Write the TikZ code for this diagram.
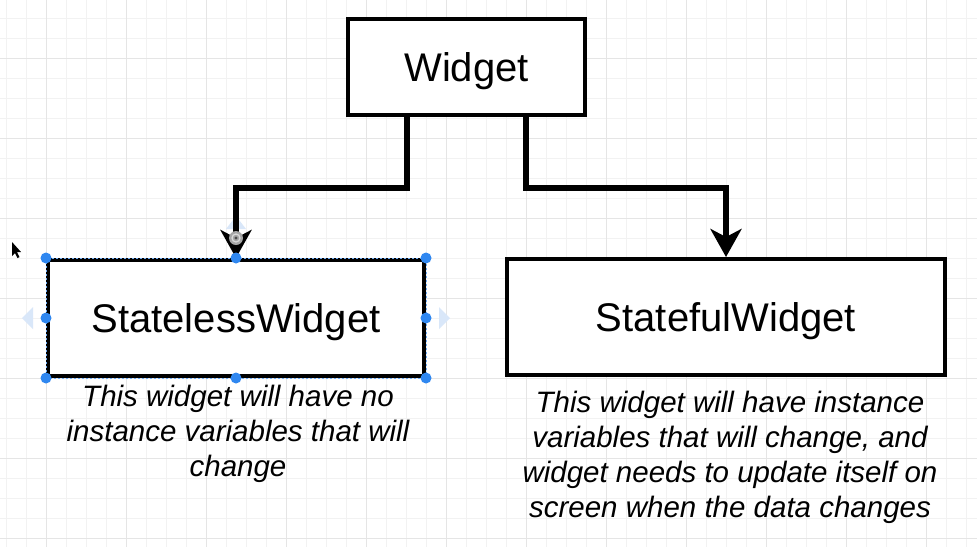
\documentclass[tikz,border=0pt]{standalone}
\usepackage{fontspec}
\setmainfont{Liberation Sans}
\usetikzlibrary{arrows.meta}
\definecolor{gridfine}{HTML}{F2F2F2}
\definecolor{gridmajor}{HTML}{E5E5E5}
\definecolor{handleblue}{HTML}{2F87F0}
\definecolor{ghostblue}{HTML}{D9E7F9}
\tikzset{
  box/.style={draw=black, line width=4pt, fill=white, inner sep=0pt,
    text height=28.6pt, text depth=0pt,
    font=\fontsize{40}{48}\selectfont},
  conn/.style={draw=black, line width=6pt,
    -{Stealth[length=28pt,width=31pt,inset=8pt]}},
  caption/.style={align=center, inner sep=0pt,
    font=\fontsize{29.5}{35}\selectfont\itshape},
  gfine/.style={draw=gridfine, line width=0.8pt},
  gmajor/.style={draw=gridmajor, line width=0.9pt},
  handle/.style={fill=handleblue},
  ghost/.style={fill=ghostblue}
}
\begin{document}
\begin{tikzpicture}[x=1pt,y=-1pt]
\useasboundingbox (0,0) rectangle (977,547);
\fill[white] (0,0) rectangle (977,547);
% grid
\foreach \i in {0,...,48} \draw[gfine] ({6.7+20*\i},0) -- ({6.7+20*\i},547);
\foreach \j in {0,...,26} \draw[gfine] (0,{18.3+20*\j}) -- (977,{18.3+20*\j});
\foreach \i in {0,...,11} \draw[gmajor] ({46.7+80*\i},0) -- ({46.7+80*\i},547);
\foreach \j in {0,...,6} \draw[gmajor] (0,{58.3+80*\j}) -- (977,{58.3+80*\j});
% ghost triangles of the selection
\fill[ghost] (22,318) -- (33,307) -- (33,329) -- cycle;
\fill[ghost] (450,318) -- (439,307) -- (439,329) -- cycle;
\fill[ghost] (236,216) -- (226,229) -- (246,229) -- cycle;
% nodes
\node[box, minimum width=237pt, minimum height=96pt] (w) at (466.5,67) {Widget};
\node[box, minimum width=376pt, minimum height=116pt] (sl) at (236,318) {StatelessWidget};
\node[box, minimum width=438pt, minimum height=116pt] (sf) at (726,317) {StatefulWidget};
% connectors
\draw[conn] ([xshift=-60pt]w.south) -- ++(0,71) -| (sl.north);
\draw[conn] ([xshift=59pt]w.south) -- ++(0,71) -| (sf.north);
% rotation icon on the left arrow head
\fill[gray!70] (236,238) circle (7);
\draw[gray!30, line width=1.2pt] (236,238) circle (4);
\fill[black!70] (236,238) circle (1.6);
% selection overlay
\draw[handleblue!70, line width=0.9pt, dash pattern=on 2pt off 2pt]
  (sl.north west) rectangle (sl.south east);
\foreach \a in {north west,north,north east,west,east,south west,south,south east}
  \fill[handle] (sl.\a) circle (5.5);
% captions
\node[caption] (slcap) at (238,434) {This widget will have no\\instance variables that will\\change};
\node[caption] (sfcap) at (730,457) {This widget will have instance\\variables that will change, and\\widget needs to update itself on\\screen when the data changes};
% mouse cursor
\fill[black] (12,242) -- (12,256) -- (15,253) -- (17.5,258) -- (19.5,257) -- (17,252) -- (21,252) -- cycle;
\end{tikzpicture}
\end{document}
